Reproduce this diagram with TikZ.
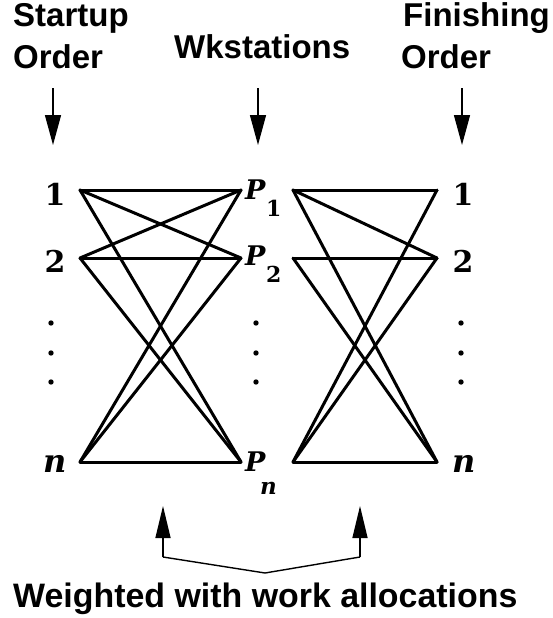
\documentclass[tikz,border=0pt]{standalone}
\usepackage{fontspec}
\newfontfamily\hel{Liberation Sans}
\newfontfamily\lab{DejaVu Serif}
\usetikzlibrary{arrows.meta}
\begin{document}
\begin{tikzpicture}[x=1pt,y=-1pt,
  edge/.style={line width=3pt, line cap=round, line join=round},
  hdrarrow/.style={line width=1.4pt, -{Triangle[length=30pt,width=16pt]}},
  hdr/.style={anchor=base west, inner sep=0pt, font=\fontsize{33pt}{33pt}\selectfont\hel\bfseries},
  numlab/.style={anchor=base, inner sep=0pt, font=\lab\bfseries\fontsize{30pt}{30pt}\selectfont},
  nlab/.style={anchor=base, inner sep=0pt, font=\lab\bfseries\itshape\fontsize{32pt}{32pt}\selectfont},
  plab/.style={anchor=base west, inner sep=0pt, font=\lab\bfseries\itshape\fontsize{27pt}{27pt}\selectfont},
  psub/.style={anchor=base west, inner sep=0pt, font=\lab\bfseries\fontsize{22pt}{22pt}\selectfont},
  psubn/.style={anchor=base west, inner sep=0pt, font=\lab\bfseries\itshape\fontsize{23pt}{23pt}\selectfont},
  dot/.style={circle, fill=black, inner sep=0pt, minimum size=5.4pt}]
\useasboundingbox (0,0) rectangle (553,618);
% headers
\node[hdr] (h1) at (13,27) {Startup};
\node[hdr] (h2) at (13,68) {Order};
\node[hdr] (h3) at (174,59) {Wkstations};
\node[hdr] (h4) at (403,27) {Finishing};
\node[hdr] (h5) at (401,68) {Order};
% header arrows
\coordinate (a1s) at (53,88); \coordinate (a1e) at (53,145);
\coordinate (a2s) at (258,88); \coordinate (a2e) at (258,145);
\coordinate (a3s) at (462,88); \coordinate (a3e) at (462,145);
\draw[hdrarrow] (a1s) -- (a1e);
\draw[hdrarrow] (a2s) -- (a2e);
\draw[hdrarrow] (a3s) -- (a3e);
% column points
\coordinate (L1) at (80,190); \coordinate (L2) at (80,258); \coordinate (Ln) at (80,462);
\coordinate (P1) at (241,190); \coordinate (P2) at (241,258); \coordinate (Pn) at (241,462);
\coordinate (Q1) at (293,190); \coordinate (Q2) at (293,258); \coordinate (Qn) at (293,462);
\coordinate (R1) at (437,190); \coordinate (R2) at (437,258); \coordinate (Rn) at (437,462);
% left bipartite
\foreach \a in {L1,L2,Ln}{\foreach \b in {P1,P2,Pn}{\draw[edge] (\a) -- (\b);}}
% right part
\draw[edge] (Q1) -- (R1);
\draw[edge] (Q1) -- (R2);
\draw[edge] (Q1) -- (Rn);
\draw[edge] (Q2) -- (R2);
\draw[edge] (Q2) -- (Rn);
\draw[edge] (Qn) -- (R1);
\draw[edge] (Qn) -- (R2);
\draw[edge] (Qn) -- (Rn);
% labels
\node[numlab] (l1) at (55,205) {1};
\node[numlab] (l2) at (55,272) {2};
\node[nlab] (ln) at (55,472) {n};
\node[numlab] (r1) at (463,205) {1};
\node[numlab] (r2) at (463,272) {2};
\node[nlab] (rn) at (464,472) {n};
\node[plab] (p1) at (245,199) {P};
\node[psub] (p1s) at (266,216) {1};
\node[plab] (p2) at (245,265) {P};
\node[psub] (p2s) at (266,282) {2};
\node[plab] (pn) at (245,471) {P};
\node[psubn] (pns) at (260,494) {n};
% dots
\foreach \x/\c in {51/l,256/m,461/r}{
  \foreach \y/\k in {323/1,353/2,382/3}{
    \node[dot] (d\c\k) at (\x,\y) {};}}
% bottom bracket
\coordinate (b1s) at (163,557); \coordinate (b1e) at (163,506);
\coordinate (b2s) at (360,557); \coordinate (b2e) at (360,506);
\coordinate (bm) at (265,573);
\draw[line width=1.4pt, -{Triangle[length=32pt,width=15pt]}] (b1s) -- (b1e);
\draw[line width=1.4pt, -{Triangle[length=32pt,width=15pt]}] (b2s) -- (b2e);
\draw[line width=1.4pt, line join=miter] (b1s) -- (bm) -- (b2s);
\node[hdr, font=\fontsize{33.9pt}{34pt}\selectfont\hel\bfseries] (bt) at (13,607) {Weighted with work allocations};
\end{tikzpicture}
\end{document}
